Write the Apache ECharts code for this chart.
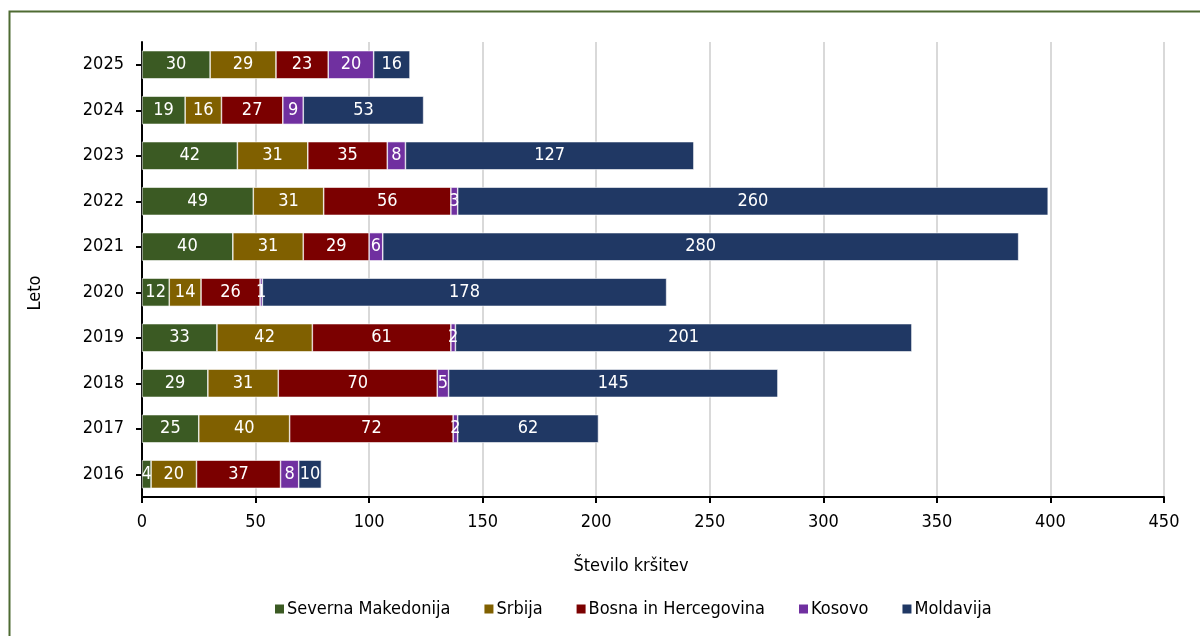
<!DOCTYPE html>
<html><head><meta charset="utf-8">
<script src="https://cdn.jsdelivr.net/npm/echarts@6/dist/echarts.min.js"></script>
<style>html,body{margin:0;padding:0;background:#fff}#c{width:1200px;height:636px}</style>
</head><body><div id="c"></div>
<script>
const years = ['2016','2017','2018','2019','2020','2021','2022','2023','2024','2025'];
const seriesNames = ['Severna Makedonija','Srbija','Bosna in Hercegovina','Kosovo','Moldavija'];
const severnaMakedonija = [4,25,29,33,12,40,49,42,19,30];
const srbija = [20,40,31,42,14,31,31,31,16,29];
const bosna = [37,72,70,61,26,29,56,35,27,23];
const kosovo = [8,2,5,2,1,6,3,8,9,20];
const moldavija = [10,62,145,201,178,280,260,127,53,16];
const xTicks = [0,50,100,150,200,250,300,350,400,450];
const colors = ['#3b5a23','#806000','#7b0000','#7030a0','#203864'];
const FONT = 'DejaVu Sans Condensed';
const allData = [severnaMakedonija, srbija, bosna, kosovo, moldavija];

const chart = echarts.init(document.getElementById('c'));
chart.setOption({
  animation: false,
  textStyle: {fontFamily: FONT},
  grid: {left: 142, right: 36, top: 42, bottom: 139, containLabel: false},
  legend: {
    bottom: 13, left: 268,
    itemWidth: 11, itemHeight: 11, itemGap: 32,
    icon: 'rect',
    textStyle: {fontFamily: FONT, fontSize: 18, color: '#000', padding: [0,0,0,-3]},
    data: seriesNames
  },
  xAxis: {
    type: 'value', min: 0, max: 450, interval: 50,
    axisLine: {show: true, lineStyle: {color: '#000', width: 2}},
    axisTick: {show: true, length: 6, lineStyle: {color: '#000', width: 2}},
    axisLabel: {fontFamily: FONT, fontSize: 18, color: '#000', margin: 16,
      formatter: v => xTicks.includes(v) ? String(v) : ''},
    splitLine: {show: true, lineStyle: {color: '#d9d9d9', width: 2}}
  },
  yAxis: {
    type: 'category', data: years,
    axisLine: {show: true, lineStyle: {color: '#000', width: 2}},
    axisTick: {show: true, alignWithLabel: true, length: 6, lineStyle: {color: '#000', width: 2}},
    axisLabel: {fontFamily: FONT, fontSize: 18, color: '#000', margin: 18}
  },
  graphic: [
    {type: 'rect', shape: {x: 9.5, y: 11.5, width: 1200, height: 640}, style: {fill: 'none', stroke: '#4e6b32', lineWidth: 2}, silent: true},
    {type: 'text', x: 631, y: 566, style: {text: 'Število kršitev', font: '18px "DejaVu Sans Condensed"', fill: '#000', align: 'center', verticalAlign: 'middle'}},
    {type: 'text', x: 35, y: 293, rotation: Math.PI/2, style: {text: 'Leto', font: '18px "DejaVu Sans Condensed"', fill: '#000', align: 'center', verticalAlign: 'middle'}}
  ],
  series: seriesNames.map((n, i) => ({
    name: n, type: 'bar', stack: 'total', barWidth: '62%',
    data: allData[i],
    itemStyle: {color: colors[i], borderColor: '#ffffff', borderWidth: 0.6},
    label: {show: true, position: 'inside', color: '#fff', fontFamily: FONT, fontSize: 18}
  }))
});
</script></body></html>
